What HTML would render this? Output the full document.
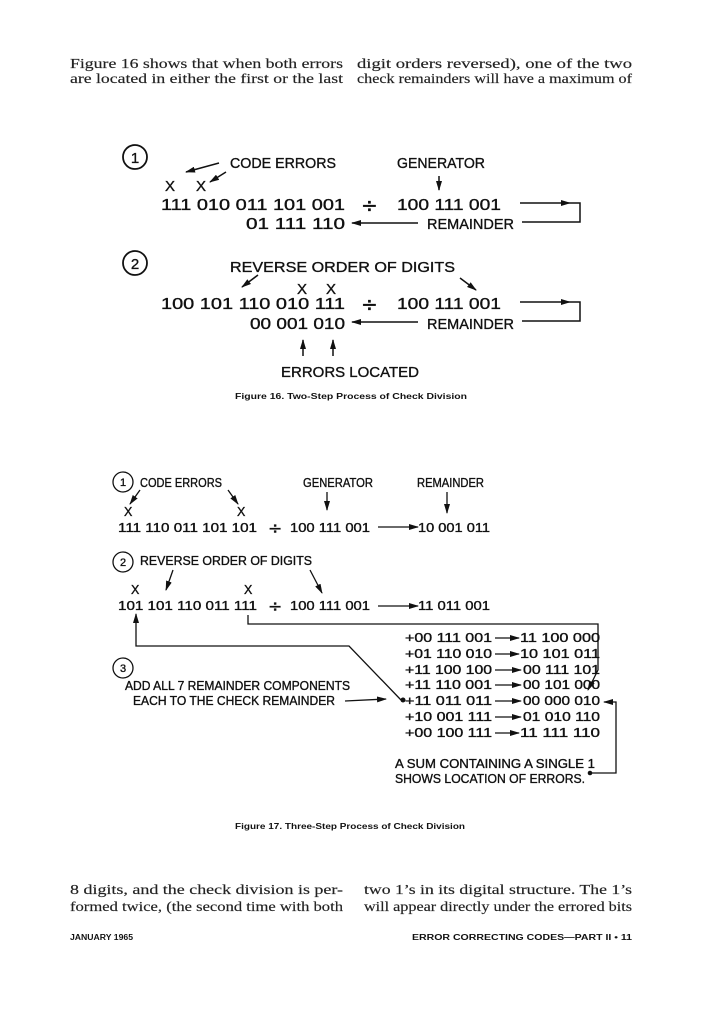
<!DOCTYPE html>
<html><head><meta charset="utf-8"><style>
html,body{margin:0;padding:0;background:#fff}
svg{display:block}
.s{font-family:"Liberation Serif",serif;font-size:13.5px;fill:#222;stroke:#222;stroke-width:0.15}
.a text{font-family:"Liberation Sans",Arial,sans-serif;fill:#111;stroke:#111;stroke-width:0.35}
.cap{font-family:"Liberation Sans",sans-serif;font-size:8px;font-weight:bold;fill:#111}
.dv{font-family:"DejaVu Sans",sans-serif !important;font-size:20px}
</style></head><body>
<svg width="716" height="1024" viewBox="0 0 716 1024" xmlns="http://www.w3.org/2000/svg">
<defs><marker id="ar" markerWidth="10" markerHeight="6" refX="9" refY="3" orient="auto" markerUnits="userSpaceOnUse"><path d="M0,0 L10,3 L0,6 Z" fill="#111"/></marker></defs>
<g class="s">
<text x="70" y="68" textLength="273" lengthAdjust="spacingAndGlyphs">Figure 16 shows that when both errors</text>
<text x="70" y="83" textLength="273" lengthAdjust="spacingAndGlyphs">are located in either the first or the last</text>
<text x="357" y="68" textLength="275" lengthAdjust="spacingAndGlyphs">digit orders reversed), one of the two</text>
<text x="357" y="83" textLength="275" lengthAdjust="spacingAndGlyphs">check remainders will have a maximum of</text>
<text x="70" y="894" textLength="273" lengthAdjust="spacingAndGlyphs">8 digits, and the check division is per-</text>
<text x="70" y="911" textLength="273" lengthAdjust="spacingAndGlyphs">formed twice, (the second time with both</text>
<text x="364" y="894" textLength="268" lengthAdjust="spacingAndGlyphs">two 1’s in its digital structure. The 1’s</text>
<text x="364" y="911" textLength="268" lengthAdjust="spacingAndGlyphs">will appear directly under the errored bits</text>
</g>
<text class="cap" x="70" y="940" textLength="63" lengthAdjust="spacingAndGlyphs">JANUARY 1965</text>
<text class="cap" x="412" y="940" textLength="220" lengthAdjust="spacingAndGlyphs">ERROR CORRECTING CODES—PART II  •  11</text>

<g stroke="#111" fill="none" stroke-width="1.8">
<circle cx="135" cy="157" r="12"/><circle cx="135" cy="263" r="12"/>
<circle cx="123" cy="482" r="10" stroke-width="1.3"/><circle cx="123" cy="562" r="10" stroke-width="1.3"/><circle cx="123" cy="668" r="10" stroke-width="1.3"/>
</g>
<g class="a" font-family="Liberation Sans, sans-serif" font-size="15">
<text x="135" y="163" font-size="15" text-anchor="middle">1</text><text x="135" y="269" font-size="15" text-anchor="middle">2</text>
<text x="230" y="168" textLength="106" lengthAdjust="spacingAndGlyphs">CODE ERRORS</text>
<text x="397" y="168" textLength="88" lengthAdjust="spacingAndGlyphs">GENERATOR</text>
<text x="165" y="191">X</text><text x="196" y="191">X</text>
<text x="161" y="210" font-size="16" textLength="184" lengthAdjust="spacingAndGlyphs">111 010 011 101 001</text>
<text x="361" y="212" class="dv">÷</text>
<text x="397" y="210" font-size="16" textLength="104" lengthAdjust="spacingAndGlyphs">100 111 001</text>
<text x="246" y="229" font-size="16" textLength="99" lengthAdjust="spacingAndGlyphs">01 111 110</text>
<text x="427" y="229" textLength="87" lengthAdjust="spacingAndGlyphs">REMAINDER</text>
<text x="230" y="272" textLength="225" lengthAdjust="spacingAndGlyphs">REVERSE ORDER OF DIGITS</text>
<text x="297" y="294">X</text><text x="326" y="294">X</text>
<text x="161" y="309" font-size="16" textLength="184" lengthAdjust="spacingAndGlyphs">100 101 110 010 111</text>
<text x="361" y="311" class="dv">÷</text>
<text x="397" y="309" font-size="16" textLength="104" lengthAdjust="spacingAndGlyphs">100 111 001</text>
<text x="250" y="329" font-size="16" textLength="95" lengthAdjust="spacingAndGlyphs">00 001 010</text>
<text x="427" y="329" textLength="87" lengthAdjust="spacingAndGlyphs">REMAINDER</text>
<text x="281" y="377" textLength="138" lengthAdjust="spacingAndGlyphs">ERRORS LOCATED</text>
</g>
<text class="cap" x="235" y="399" textLength="232" lengthAdjust="spacingAndGlyphs">Figure 16.   Two-Step Process of Check Division</text>
<g stroke="#111" stroke-width="1.5" fill="none">
<line x1="219" y1="163" x2="186" y2="172" marker-end="url(#ar)"/>
<line x1="226" y1="172" x2="210" y2="182" marker-end="url(#ar)"/>
<line x1="439" y1="176" x2="439" y2="190" marker-end="url(#ar)"/>
<line x1="520" y1="203" x2="570" y2="203" marker-end="url(#ar)"/>
<polyline points="570,203 580,203 580,222 522,222"/>
<line x1="418" y1="223" x2="352" y2="223" marker-end="url(#ar)"/>
<line x1="258" y1="275" x2="242" y2="287" marker-end="url(#ar)"/>
<line x1="460" y1="278" x2="476" y2="290" marker-end="url(#ar)"/>
<line x1="520" y1="302" x2="570" y2="302" marker-end="url(#ar)"/>
<polyline points="570,302 580,302 580,321 522,321"/>
<line x1="418" y1="322" x2="352" y2="322" marker-end="url(#ar)"/>
<line x1="303" y1="356" x2="303" y2="340" marker-end="url(#ar)"/>
<line x1="333" y1="356" x2="333" y2="340" marker-end="url(#ar)"/>
</g>

<g class="a" font-family="Liberation Sans, sans-serif" font-size="12.5">
<text x="123" y="486" font-size="11" text-anchor="middle">1</text><text x="123" y="566" font-size="11" text-anchor="middle">2</text><text x="123" y="672" font-size="11" text-anchor="middle">3</text>
<text x="140" y="487" textLength="82" lengthAdjust="spacingAndGlyphs">CODE ERRORS</text>
<text x="303" y="487" textLength="70" lengthAdjust="spacingAndGlyphs">GENERATOR</text>
<text x="417" y="487" textLength="67" lengthAdjust="spacingAndGlyphs">REMAINDER</text>
<text x="124" y="516">X</text><text x="237" y="516">X</text>
<text x="118" y="532" textLength="139" lengthAdjust="spacingAndGlyphs">111 110 011 101 101</text>
<text x="268" y="534" class="dv" style="font-size:17px">÷</text>
<text x="290" y="532" textLength="80" lengthAdjust="spacingAndGlyphs">100 111 001</text>
<text x="418" y="532" textLength="72" lengthAdjust="spacingAndGlyphs">10 001 011</text>
<text x="140" y="565" textLength="172" lengthAdjust="spacingAndGlyphs">REVERSE ORDER OF DIGITS</text>
<text x="131" y="594">X</text><text x="244" y="594">X</text>
<text x="118" y="610" textLength="139" lengthAdjust="spacingAndGlyphs">101 101 110 011 111</text>
<text x="268" y="612" class="dv" style="font-size:17px">÷</text>
<text x="290" y="610" textLength="80" lengthAdjust="spacingAndGlyphs">100 111 001</text>
<text x="418" y="610" textLength="72" lengthAdjust="spacingAndGlyphs">11 011 001</text>
<text x="405" y="642" textLength="87" lengthAdjust="spacingAndGlyphs">+00 111 001</text><text x="520" y="642" textLength="80" lengthAdjust="spacingAndGlyphs">11 100 000</text>
<text x="405" y="658" textLength="87" lengthAdjust="spacingAndGlyphs">+01 110 010</text><text x="520" y="658" textLength="80" lengthAdjust="spacingAndGlyphs">10 101 011</text>
<text x="405" y="674" textLength="87" lengthAdjust="spacingAndGlyphs">+11 100 100</text><text x="523" y="674" textLength="77" lengthAdjust="spacingAndGlyphs">00 111 101</text>
<text x="405" y="689" textLength="87" lengthAdjust="spacingAndGlyphs">+11 110 001</text><text x="523" y="689" textLength="77" lengthAdjust="spacingAndGlyphs">00 101 000</text>
<text x="405" y="705" textLength="87" lengthAdjust="spacingAndGlyphs">+11 011 011</text><text x="523" y="705" textLength="77" lengthAdjust="spacingAndGlyphs">00 000 010</text>
<text x="405" y="721" textLength="87" lengthAdjust="spacingAndGlyphs">+10 001 111</text><text x="523" y="721" textLength="77" lengthAdjust="spacingAndGlyphs">01 010 110</text>
<text x="405" y="737" textLength="87" lengthAdjust="spacingAndGlyphs">+00 100 111</text><text x="520" y="737" textLength="80" lengthAdjust="spacingAndGlyphs">11 111 110</text>
<text x="125" y="690" textLength="225" lengthAdjust="spacingAndGlyphs">ADD ALL 7 REMAINDER COMPONENTS</text>
<text x="133" y="705" textLength="202" lengthAdjust="spacingAndGlyphs">EACH TO THE CHECK REMAINDER</text>
<text x="395" y="768" textLength="200" lengthAdjust="spacingAndGlyphs">A SUM CONTAINING A SINGLE 1</text>
<text x="395" y="783" textLength="190" lengthAdjust="spacingAndGlyphs">SHOWS LOCATION OF ERRORS.</text>
</g>
<text class="cap" x="235" y="829" textLength="230" lengthAdjust="spacingAndGlyphs">Figure 17.   Three-Step Process of Check Division</text>
<g stroke="#111" stroke-width="1.3" fill="none">
<line x1="140" y1="490" x2="130" y2="504" marker-end="url(#ar)"/>
<line x1="228" y1="490" x2="238" y2="504" marker-end="url(#ar)"/>
<line x1="327" y1="492" x2="327" y2="510" marker-end="url(#ar)"/>
<line x1="447" y1="492" x2="447" y2="513" marker-end="url(#ar)"/>
<line x1="378" y1="527" x2="418" y2="527" marker-end="url(#ar)"/>
<line x1="173" y1="570" x2="166" y2="590" marker-end="url(#ar)"/>
<line x1="310" y1="570" x2="322" y2="593" marker-end="url(#ar)"/>
<line x1="378" y1="606" x2="418" y2="606" marker-end="url(#ar)"/>
<polyline points="401,700 349,646 136,646 136,614" marker-end="url(#ar)"/>
<polyline points="248,615 248,624 598,624 598,670 588,690" marker-end="url(#ar)"/>
<line x1="345" y1="701" x2="386" y2="699" marker-end="url(#ar)"/>
<polyline points="591,773 616,773 616,702 604,702" marker-end="url(#ar)"/>
<line x1="495" y1="638" x2="519" y2="638" marker-end="url(#ar)"/>
<line x1="495" y1="654" x2="519" y2="654" marker-end="url(#ar)"/>
<line x1="495" y1="670" x2="521" y2="670" marker-end="url(#ar)"/>
<line x1="495" y1="685" x2="521" y2="685" marker-end="url(#ar)"/>
<line x1="495" y1="701" x2="521" y2="701" marker-end="url(#ar)"/>
<line x1="495" y1="717" x2="521" y2="717" marker-end="url(#ar)"/>
<line x1="495" y1="733" x2="519" y2="733" marker-end="url(#ar)"/>
</g>
<circle cx="403" cy="700" r="2.5" fill="#111"/>
<circle cx="590" cy="773" r="2.3" fill="#111"/>
</svg>
</body></html>
